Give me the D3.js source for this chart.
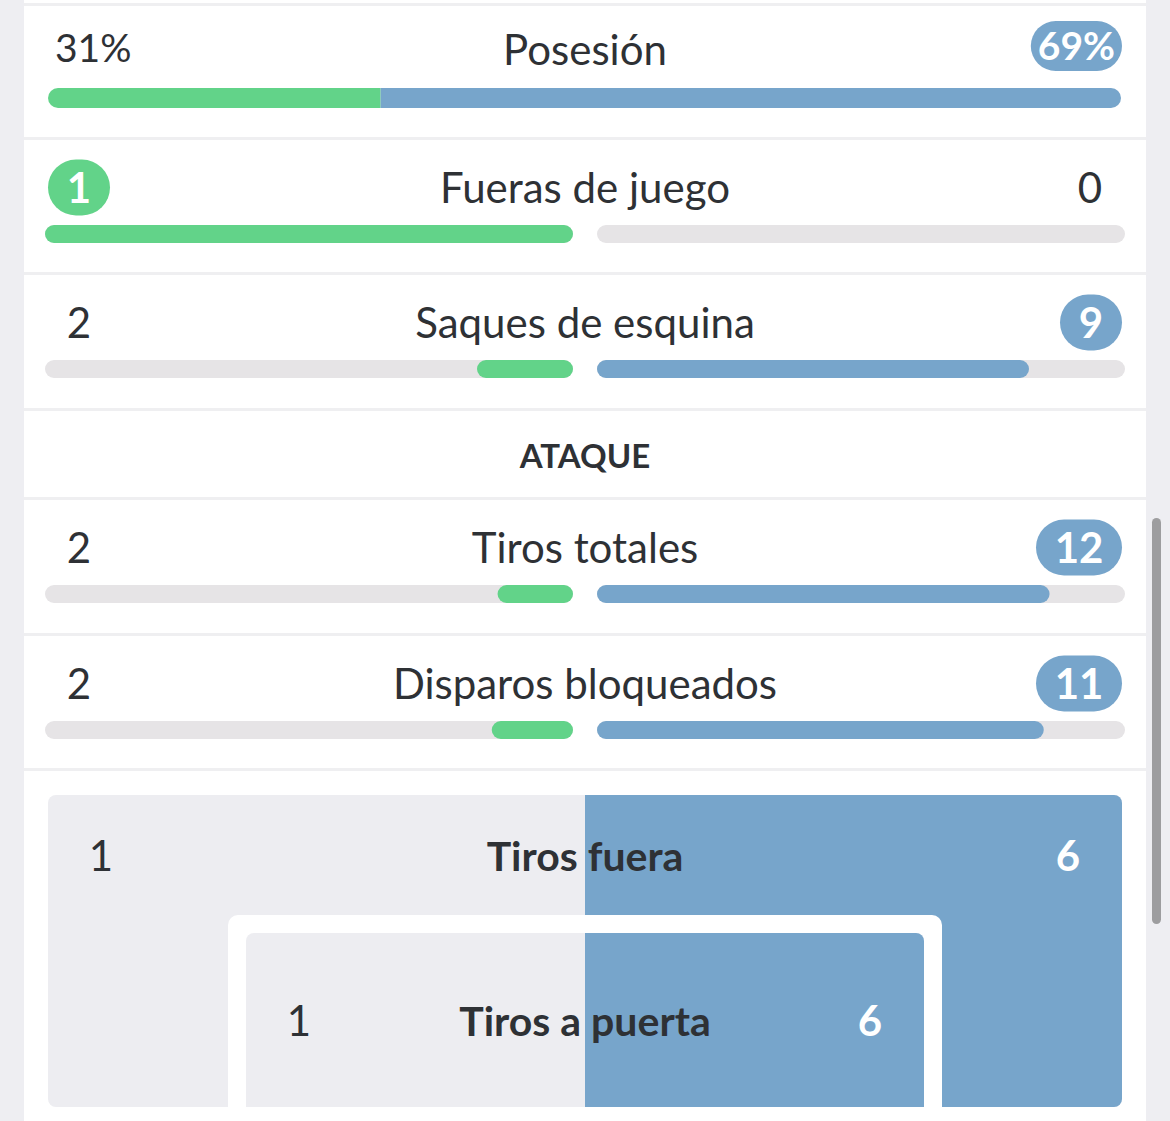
<!DOCTYPE html>
<html><head><meta charset="utf-8">
<script src="https://cdn.jsdelivr.net/npm/d3@7"></script>
<style>
html,body{margin:0;padding:0;background:#eeeef2;overflow:hidden}
svg{display:block}
text{font-family:Lato,"Open Sans",sans-serif}
</style></head>
<body><svg id="c" width="1170" height="1121"></svg>
<script>
// ---- data ----
const categories = ["Posesión","Fueras de juego","Saques de esquina","Tiros totales","Disparos bloqueados"];
const homeValues = [31,1,2,2,2];
const awayValues = [69,0,9,12,11];
const valueSuffix = ["%","","","",""];
const sectionTitle = "ATAQUE";
const shotCategories = ["Tiros fuera","Tiros a puerta"];
const shotHome = [1,1];
const shotAway = [6,6];

// ---- styles ----
const GREEN="#62d389", BLUE="#77a5cb", TRACK="#e6e4e6", TXT="#2e3135", SEP="#efeff1", BOXBG="#ededf1";
const FS=42;
const svg = d3.select("#c");
// card
svg.append("rect").attr("x",24).attr("y",0).attr("width",1122).attr("height",1121).attr("fill","#fff");
// separators
[3,137,272,408,497,633,768].forEach(y=>svg.append("rect").attr("x",24).attr("y",y).attr("width",1122).attr("height",3).attr("fill",SEP));
// scrollbar
svg.append("rect").attr("x",1152).attr("y",518).attr("width",9).attr("height",406).attr("rx",4.5).attr("fill","#9d9d9f");

const rowTops = [6,140,275,500,636];
const CX=585;

function badge(g, text, cx, cy, h, fill, anchorRight, fs){
  const t = g.append("text").text(text).attr("font-size",fs||FS).attr("font-weight",700).attr("fill","#fff")
    .attr("text-anchor","middle").attr("dy","0.36em");
  const tw = t.node().getComputedTextLength();
  const minW = String(text).length>1 ? 86 : 62;
  const w=Math.max(minW, tw+14);
  const x = anchorRight ? (cx - w) : (cx - w/2);
  g.insert("rect","text").attr("x",x).attr("y",cy-h/2).attr("width",w).attr("height",h).attr("rx",h/2).attr("fill",fill);
  t.attr("x",x+w/2).attr("y",cy);
}
function plain(g, text, x, y, anchor, fs){
  g.append("text").attr("x",x).attr("y",y).attr("dy","0.36em").attr("text-anchor",anchor).attr("font-size",fs||FS).attr("fill",TXT).text(text);
}

categories.forEach((cat,i)=>{
  const top = rowTops[i];
  const g = svg.append("g");
  const h=homeValues[i], a=awayValues[i], suf=valueSuffix[i];
  if(i===0){
    const ly = top+44;
    plain(g, cat, CX, ly, "middle");
    const x = d3.scaleLinear().domain([0,h+a]).range([48,1121]);
    const by=top+82, bh=20;
    const cid="pclip";
    svg.append("clipPath").attr("id",cid).append("rect").attr("x",x(0)).attr("y",by).attr("width",x(h+a)-x(0)).attr("height",bh).attr("rx",bh/2);
    const bg=g.append("g").attr("clip-path",`url(#${cid})`);
    bg.append("rect").attr("x",x(0)).attr("y",by).attr("width",x(h)-x(0)).attr("height",bh).attr("fill",GREEN);
    bg.append("rect").attr("x",x(h)).attr("y",by).attr("width",x(h+a)-x(h)).attr("height",bh).attr("fill",BLUE);
    if(h>a){ badge(g.append("g"),h+suf,48,top+40,50,GREEN,false,39); }
    else plain(g, h+suf, 55, ly-2, "start", 39);
    if(a>h){ badge(g.append("g"),a+suf,1122,top+40,50,BLUE,true,39); }
    else plain(g, a+suf, 1115, ly-2, "end", 39);
    return;
  }
  const ly = top+48;
  plain(g, cat, CX, ly, "middle");
  const tot = Math.max(h+a,1);
  const xl = d3.scaleLinear().domain([0,tot]).range([573,45]);
  const xr = d3.scaleLinear().domain([0,tot]).range([597,1125]);
  const by=top+85, bh=18;
  g.append("rect").attr("x",xl(tot)).attr("y",by).attr("width",xl(0)-xl(tot)).attr("height",bh).attr("rx",bh/2).attr("fill",TRACK);
  g.append("rect").attr("x",xr(0)).attr("y",by).attr("width",xr(tot)-xr(0)).attr("height",bh).attr("rx",bh/2).attr("fill",TRACK);
  if(h>0) g.append("rect").attr("x",xl(h)).attr("y",by).attr("width",xl(0)-xl(h)).attr("height",bh).attr("rx",bh/2).attr("fill",GREEN);
  if(a>0) g.append("rect").attr("x",xr(0)).attr("y",by).attr("width",xr(a)-xr(0)).attr("height",bh).attr("rx",bh/2).attr("fill",BLUE);
  if(h>a){ badge(g.append("g"),h,79,ly-0.5,56,GREEN,false); }
  else plain(g, h, 79, ly, "middle");
  if(a>h){ badge(g.append("g"),a,1122,ly-0.5,56,BLUE,true); }
  else plain(g, a, 1090, ly, "middle");
});

// section title
svg.append("text").attr("x",CX).attr("y",456).attr("dy","0.36em").attr("text-anchor","middle").attr("font-size",33).attr("font-weight",700).attr("fill",TXT).text(sectionTitle);

// shots boxes
const boxes = [
  {x0:48,x1:1122,y0:795,y1:1107,numL:101,numR:1068,ty:856,rx:8},
  {x0:246,x1:924,y0:933,y1:1107,numL:299,numR:870,ty:1021,rx:8}
];
const defs=svg.append("defs");
shotCategories.forEach((cat,i)=>{
  const b=boxes[i];
  if(i===1){
    svg.append("rect").attr("x",228).attr("y",915).attr("width",714).attr("height",230).attr("rx",10).attr("fill","#fff");
  }
  const id="sclip"+i;
  const ch = i===0 ? (b.y1-b.y0) : (b.y1-b.y0+30);
  defs.append("clipPath").attr("id",id).append("rect").attr("x",b.x0).attr("y",b.y0).attr("width",b.x1-b.x0).attr("height",ch).attr("rx",b.rx);
  const g=svg.append("g").attr("clip-path",`url(#${id})`);
  const x=d3.scaleLinear().domain([0,1]).range([b.x0,b.x1]);
  g.append("rect").attr("x",x(0)).attr("y",b.y0).attr("width",x(1)-x(0)).attr("height",b.y1-b.y0).attr("fill",BOXBG);
  const h=shotHome[i], a=shotAway[i];
  if(a>h) g.append("rect").attr("x",CX).attr("y",b.y0).attr("width",x(1)-CX).attr("height",b.y1-b.y0).attr("fill",BLUE);
  else if(h>a) g.append("rect").attr("x",x(0)).attr("y",b.y0).attr("width",CX-x(0)).attr("height",b.y1-b.y0).attr("fill",GREEN);
});
shotCategories.forEach((cat,i)=>{
  const b=boxes[i];
  const h=shotHome[i], a=shotAway[i];
  svg.append("text").attr("x",CX).attr("y",b.ty).attr("dy","0.36em").attr("text-anchor","middle").attr("font-size",41).attr("font-weight",700).attr("fill",TXT).text(cat);
  svg.append("text").attr("x",b.numL).attr("y",b.ty).attr("dy","0.36em").attr("text-anchor","middle").attr("font-size",FS).attr("font-weight",h>a?700:400).attr("fill",h>a?"#fff":TXT).text(h);
  svg.append("text").attr("x",b.numR).attr("y",b.ty).attr("dy","0.36em").attr("text-anchor","middle").attr("font-size",FS).attr("font-weight",a>h?700:400).attr("fill",a>h?"#fff":TXT).text(a);
});
// card white below boxes
svg.append("rect").attr("x",24).attr("y",1107).attr("width",1122).attr("height",14).attr("fill","#fff");
</script></body></html>
